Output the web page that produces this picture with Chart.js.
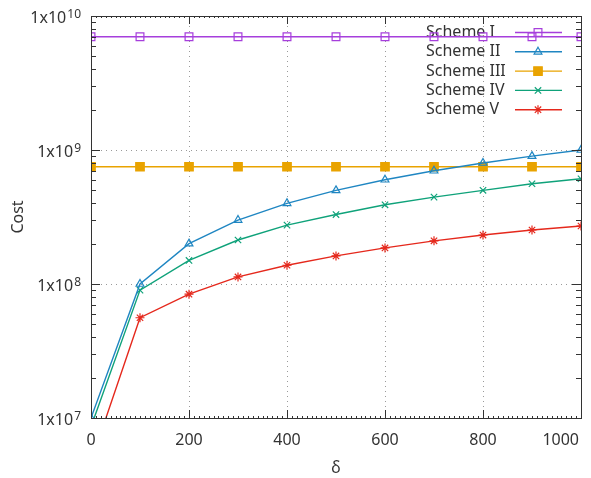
<!DOCTYPE html>
<html>
<head>
<meta charset="utf-8">
<script src="https://cdn.jsdelivr.net/npm/chart.js@4"></script>
<style>
  html, body { margin: 0; padding: 0; background: #fff; }
  #wrap { width: 591px; height: 478px; }
</style>
</head>
<body>
<div id="wrap"><canvas id="chart1" width="591" height="478"></canvas></div>
<script>
// delta values on the x axis
var deltas = [0, 100, 200, 300, 400, 500, 600, 700, 800, 900, 1000]

var schemeI   = [7e9, 7e9, 7e9, 7e9, 7e9, 7e9, 7e9, 7e9, 7e9, 7e9, 7e9]
var schemeII  = [1e7, 1e8, 2e8, 3e8, 4e8, 5e8, 6e8, 7e8, 8e8, 9e8, 1e9]
var schemeIII = [7.5e8, 7.5e8, 7.5e8, 7.5e8, 7.5e8, 7.5e8, 7.5e8, 7.5e8, 7.5e8, 7.5e8, 7.5e8]
var schemeIV  = [8.6e6, 9e7, 1.5e8, 2.13e8, 2.75e8, 3.3e8, 3.9e8, 4.45e8, 5e8, 5.6e8, 6.1e8]
var schemeV   = [4.7e6, 5.6e7, 8.4e7, 1.13e8, 1.38e8, 1.62e8, 1.86e8, 2.1e8, 2.32e8, 2.53e8, 2.71e8]

var seriesNames = ['Scheme I', 'Scheme II', 'Scheme III', 'Scheme IV', 'Scheme V']
var xTicks = [0, 200, 400, 600, 800, 1000]
var yTicks = [1e7, 1e8, 1e9, 1e10]
var yTickBase = '1x10'
var yTickExp = ['7', '8', '9', '10']

var FONT = '"Noto Sans", "DejaVu Sans", sans-serif'
var INK = '#333333'

function pts(values) {
    var out = []
    for (var i = 0; i < deltas.length; ++i) {
        out.push({ x: deltas[i], y: values[i] })
    }
    return out
}

function makeSet(label, values, color, style, filled, radius) {
    return {
        label: label,
        data: pts(values),
        borderColor: color,
        backgroundColor: filled ? color : 'rgba(0,0,0,0)',
        pointBorderColor: color,
        pointBackgroundColor: filled ? color : 'rgba(0,0,0,0)',
        pointStyle: style,
        pointRadius: radius,
        pointBorderWidth: 1.2,
        borderWidth: 1.4,
        tension: 0
    }
}

// gnuplot style frame, inward ticks, tick labels and key
var gnuFrame = {
    id: 'gnuFrame',
    beforeDatasetsDraw(chart) {
        var ctx = chart.ctx
        var sets = chart.data.datasets
        ctx.save()
        ctx.font = '16px ' + FONT
        ctx.textAlign = 'left'
        ctx.textBaseline = 'middle'
        for (var i = 0; i < sets.length; ++i) {
            var y = 32.5 + i * 19.3
            ctx.fillStyle = INK
            ctx.fillText(sets[i].label, 426, y)
            ctx.strokeStyle = sets[i].borderColor
            ctx.lineWidth = 1.4
            ctx.beginPath()
            ctx.moveTo(515, y)
            ctx.lineTo(562, y)
            ctx.stroke()
            ctx.fillStyle = sets[i].pointBackgroundColor
            ctx.lineWidth = 1.2
            Chart.helpers.drawPoint(ctx, {
                pointStyle: sets[i].pointStyle,
                radius: sets[i].pointRadius,
                borderWidth: 1.2,
                rotation: 0
            }, 538, y)
        }
        ctx.restore()
    },
    afterDraw(chart) {
        var ctx = chart.ctx
        var a = chart.chartArea
        var xs = chart.scales.x
        var ys = chart.scales.y
        ctx.save()
        ctx.strokeStyle = INK
        ctx.lineWidth = 1
        ctx.beginPath()
        // x ticks, major and minor, bottom and top
        for (var v = 0; v <= 1000; v += 10) {
            var px = Math.round(xs.getPixelForValue(v)) + 0.5
            var len = (v % 200 === 0) ? 8 : 2
            ctx.moveTo(px, a.bottom)
            ctx.lineTo(px, a.bottom - len)
            ctx.moveTo(px, a.top)
            ctx.lineTo(px, a.top + len)
        }
        // y ticks, decades and 2..9
        for (var d = 7; d < 10; ++d) {
            for (var m = 1; m <= 9; ++m) {
                var py = Math.round(ys.getPixelForValue(m * Math.pow(10, d))) + 0.5
                var l2 = (m === 1) ? 9 : 5
                ctx.moveTo(a.left, py)
                ctx.lineTo(a.left + l2, py)
                ctx.moveTo(a.right, py)
                ctx.lineTo(a.right - l2, py)
            }
        }
        ctx.stroke()
        ctx.strokeRect(Math.round(a.left) + 0.5, Math.round(a.top) + 0.5,
            Math.round(a.right - a.left), Math.round(a.bottom - a.top))

        ctx.fillStyle = INK
        // x tick labels, last one kept inside the canvas
        ctx.font = '16px ' + FONT
        ctx.textBaseline = 'middle'
        ctx.textAlign = 'center'
        for (var j = 0; j < xTicks.length; ++j) {
            var lbl = String(xTicks[j])
            var w = ctx.measureText(lbl).width
            var cx = Math.min(xs.getPixelForValue(xTicks[j]), 579 - w / 2)
            ctx.fillText(lbl, cx, a.bottom + 22)
        }

        // y tick labels 1x10^n
        ctx.textBaseline = 'alphabetic'
        ctx.textAlign = 'left'
        for (var k = 0; k < yTicks.length; ++k) {
            var ty = ys.getPixelForValue(yTicks[k])
            ctx.font = '12px ' + FONT
            var ew = ctx.measureText(yTickExp[k]).width
            ctx.font = '16px ' + FONT
            var bw = ctx.measureText(yTickBase).width
            var right = a.left - 10
            ctx.fillText(yTickBase, right - ew - 1 - bw, ty + 7)
            ctx.font = '12px ' + FONT
            ctx.fillText(yTickExp[k], right - ew, ty + 2)
        }
        ctx.restore()
    }
}

var ctx = document.getElementById('chart1')
var chart1 = new Chart(ctx, {
    type: 'line',
    data: {
        datasets: [
            makeSet(seriesNames[0], schemeI, '#a63fdc', 'rect', false, 5.5),
            makeSet(seriesNames[1], schemeII, '#1f86c2', 'triangle', false, 4.5),
            makeSet(seriesNames[2], schemeIII, '#e9a300', 'rect', true, 6),
            makeSet(seriesNames[3], schemeIV, '#0fa27a', 'crossRot', false, 4.5),
            makeSet(seriesNames[4], schemeV, '#e5281c', 'star', false, 4.5)
        ]
    },
    options: {
        responsive: false,
        animation: false,
        layout: { padding: { top: 16, right: 10, left: 0, bottom: 0 } },
        plugins: {
            legend: { display: false },
            tooltip: { enabled: false }
        },
        scales: {
            x: {
                type: 'linear',
                min: 0,
                max: 1000,
                afterBuildTicks(scale) {
                    scale.ticks = xTicks.map(function (v) { return { value: v } })
                },
                afterFit(scale) {
                    scale.height = 60
                    scale.paddingLeft = 0
                    scale.paddingRight = 0
                },
                ticks: { display: false },
                grid: {
                    color: '#9a9a9a',
                    lineWidth: 1,
                    drawTicks: false
                },
                border: { display: false, dash: [1, 4] },
                title: {
                    display: true,
                    text: '\u03b4',
                    font: { family: FONT, size: 16 },
                    color: INK,
                    padding: { top: -2, bottom: 0 }
                }
            },
            y: {
                type: 'logarithmic',
                min: 1e7,
                max: 1e10,
                afterBuildTicks(scale) {
                    scale.ticks = yTicks.map(function (v) { return { value: v } })
                },
                afterFit(scale) { scale.width = 91 },
                ticks: { display: false },
                grid: {
                    color: '#9a9a9a',
                    lineWidth: 1,
                    drawTicks: false
                },
                border: { display: false, dash: [1, 4] },
                title: {
                    display: true,
                    text: 'Cost',
                    font: { family: FONT, size: 16 },
                    color: INK,
                    padding: { top: 9, bottom: 0 }
                }
            }
        }
    },
    plugins: [gnuFrame]
})
</script>
</body>
</html>
